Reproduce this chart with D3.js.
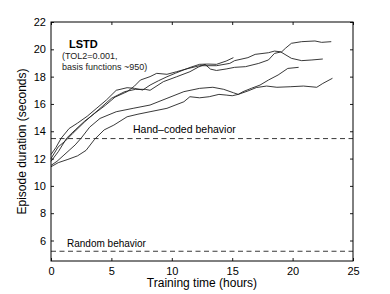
<!DOCTYPE html>
<html><head><meta charset="utf-8">
<script src="https://cdn.jsdelivr.net/npm/d3@7"></script>
<style>
body{margin:0;background:#fff;}
svg{display:block;font-family:"Liberation Sans",Arial,Helvetica,sans-serif;}
</style></head>
<body><svg id="c" width="390" height="294"></svg>
<script>
// ---- data ----
const xTicks = [0, 5, 10, 15, 20, 25];
const yTicks = [6, 8, 10, 12, 14, 16, 18, 20, 22];
const xDomain = [0, 25];
const yDomain = [4.5, 22];

const runA = [[0,12.0],[0.6,12.86],[1.2,13.3],[1.8,13.84],[2.8,14.7],[3.9,15.55],[5.0,16.41],[6.1,16.9],[7.0,17.07],[7.8,17.07],[8.2,17.0],[9.3,17.63],[10.4,17.99],[11.5,18.36],[12.2,18.7],[12.75,18.9],[13.2,18.55],[13.7,18.45],[14.5,18.56],[15.2,18.68],[16.1,18.73],[17.2,18.97],[18.0,19.22],[18.5,19.7],[19.1,19.82],[19.4,20.07],[19.9,20.44],[20.75,20.56],[21.85,20.61],[22.4,20.51],[23.2,20.56]];
const runB = [[0,11.8],[0.6,12.5],[1.3,13.5],[2.0,14.1],[2.8,14.75],[3.6,15.3],[4.5,15.9],[5.3,16.5],[6.3,16.9],[6.9,17.3],[7.4,17.75],[8.2,18.0],[8.75,18.24],[9.6,18.17],[10.4,18.36],[11.2,18.56],[12.3,18.8],[13.7,18.8],[14.8,18.97],[15.2,19.17],[16.3,19.39],[16.9,19.63],[18.0,19.75],[18.5,19.87],[19.0,19.82],[19.9,19.34],[20.75,19.17],[21.6,19.22],[22.5,19.29]];
const runC = [[0,12.3],[0.4,12.8],[0.85,13.5],[1.5,14.2],[2.2,14.6],[3.0,15.1],[3.8,15.7],[4.6,16.3],[5.4,17.0],[6.3,17.19],[6.9,17.14],[7.6,17.02],[8.2,17.38],[8.9,17.7],[9.6,17.99],[10.3,18.25],[10.95,18.48],[11.6,18.7],[12.3,18.9],[13.0,18.92],[13.7,18.9],[14.5,19.14],[15.1,19.39]];
const runD = [[0,11.5],[0.5,11.8],[1.0,12.2],[1.5,12.6],[2.0,13.0],[2.5,13.5],[3.2,14.3],[4.06,14.94],[5.4,15.43],[6.8,15.68],[8.2,15.92],[9.6,16.41],[11,16.9],[12.3,17.14],[13.4,17.22],[14.3,17.07],[15.1,16.82],[15.5,16.7],[15.9,16.9],[16.6,17.15],[17.3,17.38],[18.0,17.75],[18.8,18.12],[19.6,18.6],[20.5,18.68]];
const runE = [[0,11.4],[0.6,11.7],[1.4,11.94],[2.2,12.2],[2.9,12.6],[3.6,13.4],[4.4,14.1],[5.2,14.45],[6.3,15.06],[7.2,15.25],[8.2,15.43],[9.6,15.68],[11,16.16],[11.5,16.53],[12.3,16.45],[13.1,16.53],[13.9,16.7],[14.5,16.65],[15.0,16.6],[15.5,16.7],[16.3,16.95],[17.0,17.2],[17.85,17.31],[18.7,17.22],[19.8,17.26],[20.9,17.31],[22.0,17.22],[22.5,17.5],[23.3,17.88]];
const runs = [runA, runB, runC, runD, runE];

const handCoded = 13.5;
const randomLevel = 5.25;

const xTitle = "Training time (hours)";
const yTitle = "Episode duration (seconds)";
const labelTitle = "LSTD";
const labelSub = ["(TOL2=0.001,", "basis functions ~950)"];
const handLabel = "Hand\u2013coded behavior";
const randomLabel = "Random behavior";

// ---- drawing ----
const L = 51, R = 353, T = 22, B = 261;
const svg = d3.select("#c");
const x = d3.scaleLinear().domain(xDomain).range([L, R]);
const y = d3.scaleLinear().domain(yDomain).range([B, T]);

const line = d3.line().x(d => x(d[0])).y(d => y(d[1]));
svg.append("g").selectAll("path").data(runs).join("path")
  .attr("d", line).attr("fill", "none").attr("stroke", "#222").attr("stroke-width", 0.9);

// reference dashed lines
svg.append("g").selectAll("line").data([handCoded, randomLevel]).join("line")
  .attr("x1", x(xDomain[0])).attr("x2", x(xDomain[1]))
  .attr("y1", d => y(d) + 0.5).attr("y2", d => y(d) + 0.5)
  .attr("stroke", "#222").attr("stroke-width", 0.9).attr("stroke-dasharray", "5,3.5");

// axes (ticks inside, box)
const tl = 3;
const axB = d3.axisBottom(x).tickValues(xTicks).tickSizeInner(-tl).tickSizeOuter(0).tickPadding(6);
const axT = d3.axisTop(x).tickValues(xTicks).tickSizeInner(-tl).tickSizeOuter(0).tickFormat("");
const axL = d3.axisLeft(y).tickValues(yTicks).tickSizeInner(-tl).tickSizeOuter(0).tickPadding(5);
const axR = d3.axisRight(y).tickValues(yTicks).tickSizeInner(-tl).tickSizeOuter(0).tickFormat("");
function style(g){
  g.selectAll("path.domain").remove();
  g.selectAll("line").attr("stroke", "#000").attr("stroke-width", 0.9);
  g.selectAll("text").attr("fill", "#000").style("font-size", "11px").style("font-family", '"Liberation Sans",Arial,sans-serif');
}
svg.append("g").attr("transform", `translate(0,${B})`).call(axB).call(style);
svg.append("g").attr("transform", `translate(0,${T})`).call(axT).call(style);
svg.append("g").attr("transform", `translate(${L},0)`).call(axL).call(style);
svg.append("g").attr("transform", `translate(${R},0)`).call(axR).call(style);

svg.append("rect").attr("x", L).attr("y", T).attr("width", R - L).attr("height", B - T)
  .attr("fill", "none").attr("stroke", "#000").attr("stroke-width", 1);

// titles
svg.append("text").attr("x", (L + R) / 2).attr("y", 287).attr("text-anchor", "middle")
  .style("font-size", "12px").text(xTitle);
svg.append("text").attr("transform", `translate(26,${(T + B) / 2}) rotate(-90)`).attr("text-anchor", "middle")
  .style("font-size", "12px").text(yTitle);

// annotations
svg.append("text").attr("x", 69).attr("y", 48).style("font-size", "11px").style("font-weight", "bold").text(labelTitle);
svg.append("g").selectAll("text").data(labelSub).join("text")
  .attr("x", 62).attr("y", (d, i) => 59 + i * 11).style("font-size", "9px").attr("fill", "#222").text(d => d);
svg.append("text").attr("x", 133).attr("y", 133).style("font-size", "10.5px").text(handLabel);
svg.append("text").attr("x", 67).attr("y", 247).style("font-size", "10px").text(randomLabel);
</script>
</body></html>
